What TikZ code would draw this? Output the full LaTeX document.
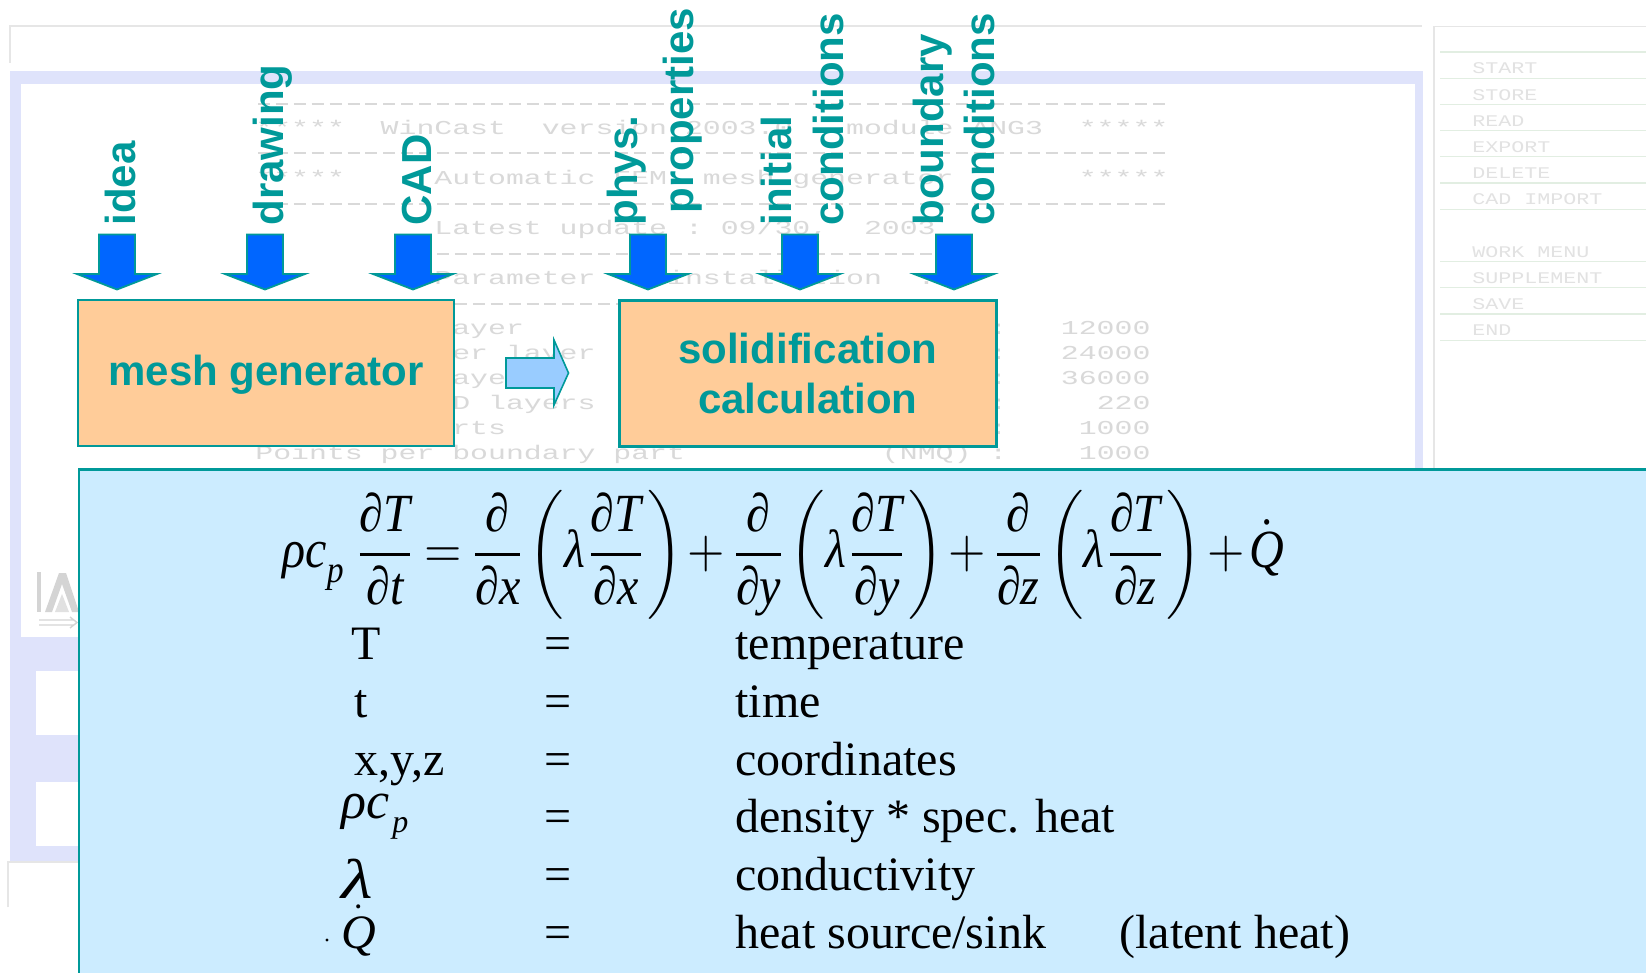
\documentclass[tikz,border=0pt]{standalone}
\usepackage{fontspec}
\usepackage{amsmath}
\usepackage{graphicx}
\setmainfont{Liberation Serif}
\newfontfamily\lsans{Liberation Sans}
\newfontfamily\gmono{Liberation Mono}
\definecolor{tealc}{HTML}{009999}
\definecolor{peach}{HTML}{FFCC99}
\definecolor{arrowblue}{HTML}{0066FF}
\definecolor{lightarrow}{HTML}{99CCFF}
\definecolor{eqfill}{HTML}{CCECFF}
\definecolor{lavender}{HTML}{DFE3FB}
\definecolor{ghostgray}{HTML}{D9D9D9}
\definecolor{panelgray}{HTML}{E2E2E2}
\definecolor{framegray}{HTML}{E6E6E6}
\definecolor{panelline}{HTML}{E2EEE2}
\definecolor{logogray}{HTML}{D4D4D4}
\newdimen\gpitch \gpitch=8.95pt
\newcommand\gsp[1]{\hspace*{#1\gpitch}}
\newcommand\gtext[1]{\scalebox{1}[0.66]{\gmono\fontsize{14.9167}{15}\selectfont #1}}
\newcommand\ptext[1]{\scalebox{1}[0.75]{\gmono\fontsize{10.833}{11}\selectfont #1}}
\newcommand\mi[1]{\textit{#1}}
\newcommand\pdf[2]{\frac{\mi{∂#1}}{\mi{∂#2}}}
\tikzset{
  ghost/.style={anchor=base west, inner sep=0, text=ghostgray},
  panel/.style={anchor=base west, inner sep=0, text=panelgray},
  ghostdash/.style={ghostgray, line width=1pt, dash pattern=on 6pt off 2.95pt},
  procbox/.style={draw=tealc, fill=peach, line width=1.3pt, text=tealc, inner sep=0,
    font=\lsans\bfseries\fontsize{21}{25}\selectfont, align=center},
  lbl/.style={rotate=90, anchor=base west, inner sep=0, text=tealc,
    font=\lsans\bfseries\fontsize{21}{25}\selectfont},
  bluearrow/.style={fill=arrowblue, draw=tealc, line width=0.9pt, line join=miter},
  midarrow/.style={fill=lightarrow, draw=tealc, line width=0.8pt, line join=miter},
  leg/.style={anchor=base west, inner sep=0, font=\fontsize{24}{28}\selectfont},
}
\begin{document}
\begin{tikzpicture}[x=0.5pt, y=-0.5pt]
\useasboundingbox (0,0) rectangle (1646,973);
\fill[white] (0,0) rectangle (1646,973);
% ---------- ghost application window ----------
\draw[framegray, line width=0.6pt] (10,63) -- (10,26) -- (1422,26);
\fill[lavender] (10,71) rectangle (1423,861);
\fill[white] (21,84) rectangle (1415,637);
\fill[white] (36,671) rectangle (300,735);
\fill[white] (36,782) rectangle (300,846);
\draw[framegray, line width=0.6pt] (8,907) -- (8,862) -- (300,862);
% logo
\fill[logogray] (37,572) rectangle (41,612);
\fill[logogray] (45,612) -- (59,573) -- (66,573) -- (79,612) -- (72,612) -- (62,584) -- (52,612) -- cycle;
\fill[logogray!70] (55,612) -- (62,594) -- (69,612) -- cycle;
\draw[logogray, line width=0.7pt] (39,620) -- (74,620) (39,625) -- (74,625) (70,617) -- (77,622.5) -- (70,628);
% right panel
\draw[framegray, line width=0.6pt] (1434,973) -- (1434,26.7) -- (1646,26.7);
\foreach \k in {0,...,6,8,9,10,11} \draw[panelline, line width=0.6pt] (1440,52+26.2*\k) -- (1646,52+26.2*\k);
\node[panel] (p0) at (1472,73.9) {\ptext{START}};
\node[panel] (p1) at (1472,100.1) {\ptext{STORE}};
\node[panel] (p2) at (1472,126.3) {\ptext{READ}};
\node[panel] (p3) at (1472,152.5) {\ptext{EXPORT}};
\node[panel] (p4) at (1472,178.7) {\ptext{DELETE}};
\node[panel] (p5) at (1472,204.9) {\ptext{CAD~IMPORT}};
\node[panel] (p7) at (1472,257.3) {\ptext{WORK~MENU}};
\node[panel] (p8) at (1472,283.5) {\ptext{SUPPLEMENT}};
\node[panel] (p9) at (1472,309.7) {\ptext{SAVE}};
\node[panel] (p10) at (1472,335.9) {\ptext{END}};
% ghost console text
\draw[ghostdash] (258,104.5) -- (1168,104.5);
\draw[ghostdash] (258,153) -- (1168,153);
\draw[ghostdash] (258,204) -- (1168,204);
\draw[ghostdash] (437,254.5) -- (935,254.5);
\draw[ghostdash] (437,304) -- (935,304);
\node[ghost] (g1) at (255,135) {\gtext{*****~~WinCast~~version~2003.0~~~module~ANG3~~*****}};
\node[ghost] (g3) at (255,185) {\gtext{*****~~~~~Automatic~FEM~~mesh~generator~~~~~~~*****}};
\node[ghost] (g5) at (434,235) {\gtext{Latest~update~:~09/30,~~2003}};
\node[ghost] (g7) at (434,285) {\gtext{Parameter~~~~installation~~:}};
\node[ghost] (g9) at (255,335) {\gtext{Nodes~per~layer\gsp{26}:~~~12000}};
\node[ghost] (g10) at (255,360) {\gtext{Elements~~per~layer\gsp{22}:~~~24000}};
\node[ghost] (g11) at (255,385) {\gtext{Faces~per~layer\gsp{26}:~~~36000}};
\node[ghost] (g12) at (255,410) {\gtext{Number~of~2D~layers\gsp{22}:~~~~~220}};
\node[ghost] (g13) at (255,435) {\gtext{Boundary~parts\gsp{27}:~~~~1000}};
\node[ghost] (g14) at (255,460) {\gtext{Points~per~boundary~part\gsp{11}(NMQ)~:~~~~1000}};
% ---------- process boxes ----------
\node[procbox, minimum width=188pt, minimum height=73pt, text depth=2.5pt] (mesh) at (266,373) {mesh generator};
\node[procbox, minimum width=188.5pt, minimum height=73pt] (solid) at (807.8,373.3) {solidification\\calculation};
\filldraw[midarrow] (506,358) -- (554,358) -- (554,340) -- (568.5,373) -- (554,405) -- (554,388) -- (506,388) -- cycle;
% ---------- input labels and arrows ----------
\node[lbl] (lidea) at (135,226) {idea};
\node[lbl] (ldraw) at (283,226) {drawing};
\node[lbl] (lcad) at (431,226) {CAD};
\node[lbl] (lphys) at (637,226) {phys.};
\node[lbl] (lprop) at (693,214) {properties};
\node[lbl] (linit) at (791,226) {initial};
\node[lbl] (lcondA) at (843,226) {conditions};
\node[lbl] (lbound) at (943,226) {boundary};
\node[lbl] (lcondB) at (994,226) {conditions};
\foreach \cx in {117,265,413,648,800,954}
  \filldraw[bluearrow] (\cx-18,234.5) -- (\cx+18,234.5) -- (\cx+18,274) -- (\cx+40,274) -- (\cx,289.5) -- (\cx-40,274) -- (\cx-18,274) -- cycle;
% ---------- equation panel ----------
\filldraw[fill=eqfill, draw=tealc, line width=1.2pt] (79,469.5) rectangle (1670,1000);
\node[anchor=west, inner sep=0] (eqn) at (282,554.5) {\thinmuskip=1mu\medmuskip=2mu\thickmuskip=3mu\resizebox*{501pt}{64.5pt}{$\displaystyle
  \mi{ρc}_{\mi{p}}\;\pdf{T}{t}=\frac{\mi{∂}}{\mi{∂x}}\left(\mi{λ}\pdf{T}{x}\right)+\frac{\mi{∂}}{\mi{∂y}}\left(\mi{λ}\pdf{T}{y}\right)+\frac{\mi{∂}}{\mi{∂z}}\left(\mi{λ}\pdf{T}{z}\right)+\dot{\mi{Q}}$}};
\node[leg] (s1) at (351,660) {T};
\node[leg] (s2) at (354,717) {t};
\node[leg] (s3) at (354,775) {x,y,z};
\node[leg, font=\fontsize{26}{30}\selectfont] (s4) at (341,818) {\textit{ρc}\kern1.5pt\raisebox{-7pt}{\fontsize{16}{16}\selectfont\textit{p}}};
\node[leg, font=\fontsize{28}{30}\selectfont] (s5) at (341,898) {\scalebox{1.3}[1]{\textit{λ}}};
\node[leg] (s6) at (341,948) {$\dot{\textit{Q}}$};
\fill (327,940) circle (0.8pt);
\foreach \y/\n in {660/1,717/2,775/3,832/4,890/5,948/6}
  \node[leg] (e\n) at (544,\y) {=};
\node[leg] (d1) at (735,660) {temperature};
\node[leg] (d2) at (735,717) {time};
\node[leg] (d3) at (735,775) {coordinates};
\node[leg] (d4) at (735,832) {density * spec. heat};
\node[leg] (d5) at (735,890) {conductivity};
\node[leg] (d6) at (735,948) {heat source/sink};
\node[leg] (d6b) at (1119,948) {(latent heat)};
\end{tikzpicture}
\end{document}
